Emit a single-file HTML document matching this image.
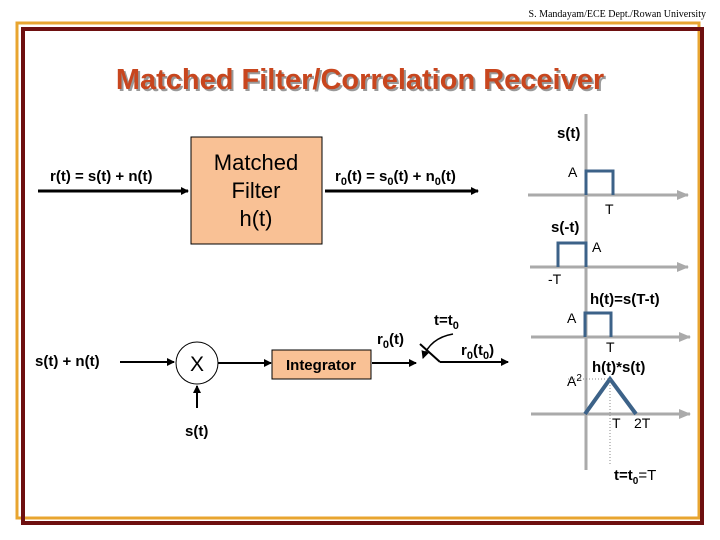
<!DOCTYPE html>
<html><head><meta charset="utf-8"><style>
html,body{margin:0;padding:0;background:#fff;width:720px;height:540px;overflow:hidden}
svg{display:block}
text{font-family:"Liberation Sans",Arial,sans-serif}
.b{font-weight:bold;font-size:15px}
.n{font-size:14px}
</style></head><body>
<svg width="720" height="540" viewBox="0 0 720 540">
<defs>
<marker id="a" markerWidth="8" markerHeight="8" refX="7" refY="4" orient="auto" markerUnits="userSpaceOnUse"><path d="M0,0 L8,4 L0,8 Z" fill="#000"/></marker>
<marker id="g" markerWidth="12" markerHeight="10" refX="11" refY="5" orient="auto" markerUnits="userSpaceOnUse"><path d="M0,0 L12,5 L0,10 Z" fill="#aaa"/></marker>
</defs>
<text x="706" y="17" text-anchor="end" style="font-family:'Liberation Serif',serif" font-size="10">S. Mandayam/ECE Dept./Rowan University</text>
<rect x="17" y="23" width="682" height="495" fill="none" stroke="#e8a530" stroke-width="3"/>
<rect x="23" y="29" width="679" height="494" fill="none" stroke="#6e1010" stroke-width="4"/>
<text x="362" y="91" text-anchor="middle" font-size="29" font-weight="bold" fill="#999">Matched Filter/Correlation Receiver</text>
<text x="360" y="89" text-anchor="middle" font-size="29" font-weight="bold" fill="#c8461e">Matched Filter/Correlation Receiver</text>

<line x1="38" y1="191" x2="188" y2="191" stroke="#000" stroke-width="3" marker-end="url(#a)"/>
<text x="50" y="181" class="b">r(t) = s(t) + n(t)</text>
<rect x="191" y="137" width="131" height="107" fill="#f9c195" stroke="#000" stroke-width="1"/>
<text x="256" y="170" text-anchor="middle" font-size="22">Matched</text>
<text x="256" y="198" text-anchor="middle" font-size="22">Filter</text>
<text x="256" y="226" text-anchor="middle" font-size="22">h(t)</text>
<line x1="325" y1="191" x2="478" y2="191" stroke="#000" stroke-width="3" marker-end="url(#a)"/>
<text x="335" y="181" class="b">r<tspan font-size="11" dy="4">0</tspan><tspan dy="-4">(t) = s</tspan><tspan font-size="11" dy="4">0</tspan><tspan dy="-4">(t) + n</tspan><tspan font-size="11" dy="4">0</tspan><tspan dy="-4">(t)</tspan></text>

<line x1="586" y1="114" x2="586" y2="470" stroke="#aaa" stroke-width="3"/>
<line x1="528" y1="195" x2="688" y2="195" stroke="#aaa" stroke-width="3" marker-end="url(#g)"/>
<line x1="530" y1="267" x2="688" y2="267" stroke="#aaa" stroke-width="3" marker-end="url(#g)"/>
<line x1="531" y1="337" x2="690" y2="337" stroke="#aaa" stroke-width="3" marker-end="url(#g)"/>
<line x1="531" y1="414" x2="690" y2="414" stroke="#aaa" stroke-width="3" marker-end="url(#g)"/>
<polyline points="586,195 586,171 613,171 613,195" fill="none" stroke="#3c6288" stroke-width="3"/>
<polyline points="558,267 558,243 586,243 586,267" fill="none" stroke="#3c6288" stroke-width="3"/>
<polyline points="585,337 585,313 611,313 611,337" fill="none" stroke="#3c6288" stroke-width="3"/>
<polyline points="585,414 610,379 636,414" fill="none" stroke="#3c6288" stroke-width="4"/>
<line x1="568" y1="379" x2="610" y2="379" stroke="#888" stroke-width="1" stroke-dasharray="1,2"/>
<line x1="610" y1="379" x2="610" y2="465" stroke="#888" stroke-width="1" stroke-dasharray="1,2"/>
<text x="557" y="138" class="b">s(t)</text>
<text x="568" y="177" class="n">A</text>
<text x="605" y="214" class="n">T</text>
<text x="551" y="232" class="b">s(-t)</text>
<text x="592" y="252" class="n">A</text>
<text x="548" y="284" class="n">-T</text>
<text x="590" y="304" class="b">h(t)=s(T-t)</text>
<text x="567" y="323" class="n">A</text>
<text x="606" y="352" class="n">T</text>
<text x="592" y="372" class="b">h(t)*s(t)</text>
<text x="567" y="386" class="n">A<tspan font-size="10" dy="-5">2</tspan></text>
<text x="612" y="428" class="n">T</text>
<text x="634" y="428" class="n">2T</text>
<text x="614" y="480" class="b" font-size="14">t=t<tspan font-size="10" dy="4">0</tspan><tspan dy="-4" font-weight="normal">=T</tspan></text>

<text x="35" y="366" class="b">s(t) + n(t)</text>
<line x1="120" y1="362" x2="174" y2="362" stroke="#000" stroke-width="2" marker-end="url(#a)"/>
<circle cx="197" cy="363" r="21" fill="#fff" stroke="#000" stroke-width="1"/>
<text x="197" y="371" text-anchor="middle" font-size="21">X</text>
<line x1="197" y1="408" x2="197" y2="386" stroke="#000" stroke-width="2" marker-end="url(#a)"/>
<text x="185" y="436" class="b">s(t)</text>
<line x1="218" y1="363" x2="271" y2="363" stroke="#000" stroke-width="2" marker-end="url(#a)"/>
<rect x="272" y="350" width="99" height="29" fill="#f9c195" stroke="#000" stroke-width="1"/>
<text x="321" y="370" text-anchor="middle" class="b">Integrator</text>
<line x1="372" y1="363" x2="416" y2="363" stroke="#000" stroke-width="2" marker-end="url(#a)"/>
<text x="377" y="344" class="b">r<tspan font-size="11" dy="4">0</tspan><tspan dy="-4">(t)</tspan></text>
<line x1="420" y1="344" x2="440" y2="362" stroke="#000" stroke-width="2"/>
<line x1="440" y1="362" x2="508" y2="362" stroke="#000" stroke-width="2" marker-end="url(#a)"/>
<path d="M453,334 Q430,338 423,358" fill="none" stroke="#000" stroke-width="1.5" marker-end="url(#a)"/>
<text x="434" y="325" class="b">t=t<tspan font-size="11" dy="4">0</tspan></text>
<text x="461" y="355" class="b">r<tspan font-size="11" dy="4">0</tspan><tspan dy="-4">(t</tspan><tspan font-size="11" dy="4">0</tspan><tspan dy="-4">)</tspan></text>
</svg>
</body></html>
